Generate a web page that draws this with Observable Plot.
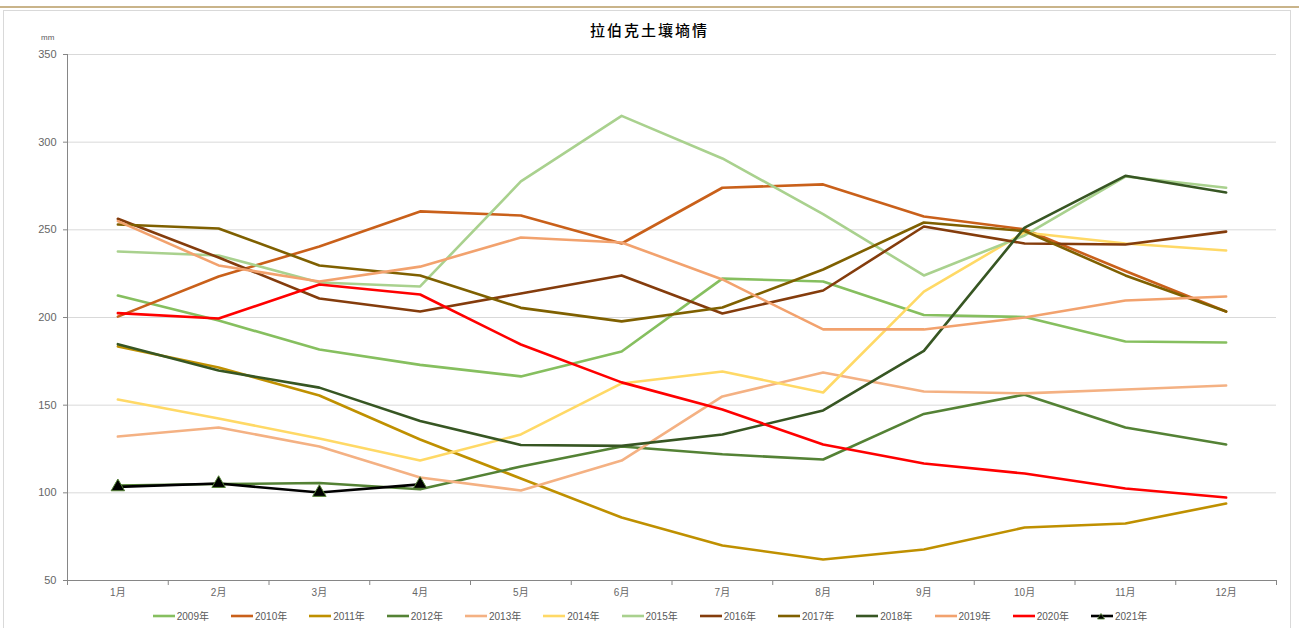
<!DOCTYPE html>
<html>
<head>
<meta charset="utf-8">
<script src="https://cdn.jsdelivr.net/npm/d3@7"></script>
<script src="https://cdn.jsdelivr.net/npm/@observablehq/plot@0.6"></script>
<style>
  body { margin: 0; background: #fff; font-family: "Liberation Sans", Arial, "Noto Sans CJK SC", sans-serif; }
  #wrap { position: relative; width: 1299px; height: 628px; overflow: hidden; background: #fff; }
  #topline { position: absolute; left: 0; top: 6px; width: 1299px; height: 2px; background: #c9b48a; }
  #frame { position: absolute; left: 3px; top: 10px; width: 1288px; height: 640px; border: 1px solid #d9d9d9; box-sizing: border-box; }
  #title { position: absolute; top: 19px; left: 0; width: 1299px; text-align: center; font-family: "Noto Sans CJK SC", sans-serif; font-size: 15px; font-weight: 500; letter-spacing: 2px; color: #000; }
  #unit { position: absolute; left: 41px; top: 33px; font-size: 8px; color: #595959; }
  #chart { position: absolute; left: 0; top: 30px; }
  #legend { position: absolute; top: 608px; left: 0; width: 1299px; display: flex; justify-content: center; gap: 21px; font-size: 10px; color: #595959; }
  #legend .item { display: flex; align-items: center; }
  #legend svg { margin-right: 1px; }
</style>
</head>
<body>
<div id="wrap">
  <div id="topline"></div>
  <div id="frame"></div>
  <div id="title">拉伯克土壤墒情</div>
  <div id="unit">mm</div>
  <div id="chart"></div>
  <div id="legend"></div>
</div>
<script>
const months = [1, 2, 3, 4, 5, 6, 7, 8, 9, 10, 11, 12];
const monthLabels = ["1月", "2月", "3月", "4月", "5月", "6月", "7月", "8月", "9月", "10月", "11月", "12月"];
const yTicks = [50, 100, 150, 200, 250, 300, 350];
const years = ["2009年", "2010年", "2011年", "2012年", "2013年", "2014年", "2015年", "2016年", "2017年", "2018年", "2019年", "2020年", "2021年"];
const colors = ["#86bf5f", "#c9601a", "#bf9000", "#548235", "#f4b183", "#ffd966", "#a9d18e", "#843c0c", "#7f6000", "#375623", "#f2a26e", "#ff0000", "#000000"];

const v2009 = [212.5, 198.3, 181.7, 173, 166.4, 180.6, 222.2, 220.5, 201.4, 200.3, 186.3, 185.7];
const v2010 = [200.5, 223.4, 240.5, 260.5, 258.2, 242.2, 274, 275.9, 257.6, 250.3, 226.5, 203.4];
const v2011 = [183.5, 171.5, 155.5, 130.4, 108.2, 85.9, 70, 62, 67.7, 80.2, 82.5, 93.9];
const v2012 = [104.2, 105, 105.6, 102, 115, 126.4, 122, 119, 145, 156, 137.3, 127.6];
const v2013 = [132.1, 137.3, 126.4, 108.7, 101.3, 118.4, 155, 168.6, 157.8, 156.7, 158.9, 161.2];
const v2014 = [153.2, 142.4, 131, 118.4, 133.3, 162.4, 169.2, 157.2, 214.8, 248.5, 242.2, 238.2];
const v2015 = [237.6, 235.4, 220, 217.7, 277.6, 315, 290.7, 259, 224, 246.8, 280.4, 274];
const v2016 = [256.3, 234.2, 210.8, 203.4, 213.7, 224, 202.3, 215.4, 251.9, 242.2, 241.6, 249];
const v2017 = [253, 250.8, 229.7, 224, 205.5, 197.8, 205.7, 227.4, 254.2, 249.3, 224, 203.4];
const v2018 = [184.8, 169.8, 160, 141, 127.3, 126.8, 133.3, 147, 181, 251.3, 280.8, 271.3];
const v2019 = [255, 229.7, 220.5, 229, 245.6, 242.8, 221.7, 193.2, 193.2, 200, 209.7, 212];
const v2020 = [202.5, 199.4, 218.8, 213.1, 184.6, 163, 147.5, 127.6, 116.7, 111, 102.5, 97.3];
const v2021 = [103.4, 105.3, 100.2, 104.8];

const seriesValues = [v2009, v2010, v2011, v2012, v2013, v2014, v2015, v2016, v2017, v2018, v2019, v2020, v2021];

const data = [];
seriesValues.forEach((vals, i) => {
  vals.forEach((v, j) => data.push({year: years[i], month: months[j], value: v}));
});
const d2021 = data.filter(d => d.year === "2021年");
const boundaries = d3.range(0, 13).map(i => i + 0.5);

const chart = Plot.plot({
  width: 1299,
  height: 575,
  marginLeft: 67,
  marginRight: 23,
  marginTop: 24,
  marginBottom: 25,
  style: {fontFamily: "'Liberation Sans', Arial, 'Noto Sans CJK SC', sans-serif", background: "transparent"},
  x: {type: "linear", domain: [0.5, 12.5], axis: null},
  y: {domain: [50, 350], axis: null},
  color: {domain: years, range: colors},
  marks: [
    Plot.gridY(yTicks, {stroke: "#d9d9d9", strokeOpacity: 1, strokeWidth: 1}),
    Plot.axisY(yTicks, {tickSize: 4, tickPadding: 7, stroke: "#868686", fill: "#666666", fontSize: 11, label: null}),
    Plot.axisX(boundaries, {tickSize: 5, tickFormat: () => "", stroke: "#868686", label: null}),
    Plot.axisX(months, {tickSize: 0, tickPadding: 8, tickFormat: d => monthLabels[d - 1], fill: "#666666", fontSize: 10, label: null}),
    Plot.ruleX([0.5], {stroke: "#868686", strokeWidth: 1}),
    Plot.ruleY([50], {stroke: "#868686", strokeWidth: 1}),
    Plot.line(data, {x: "month", y: "value", z: "year", stroke: "year", strokeWidth: 2.6, strokeLinejoin: "round", strokeLinecap: "round"}),
    Plot.dot(d2021, {x: "month", y: "value", symbol: "triangle", r: 5, fill: "#000", stroke: "#548235", strokeWidth: 1})
  ]
});
document.getElementById("chart").appendChild(chart);

const legend = document.getElementById("legend");
years.forEach((y, i) => {
  const item = document.createElement("div");
  item.className = "item";
  const marker = i === years.length - 1
    ? `<path d="M11,2.5 L14.5,8 L7.5,8 Z" fill="#000" stroke="#548235" stroke-width="0.8"/>` : "";
  item.innerHTML = `<svg width="24" height="10"><line x1="1" y1="5" x2="23" y2="5" stroke="${colors[i]}" stroke-width="2.6"/>${marker}</svg><span>${y}</span>`;
  legend.appendChild(item);
});
</script>
</body>
</html>
